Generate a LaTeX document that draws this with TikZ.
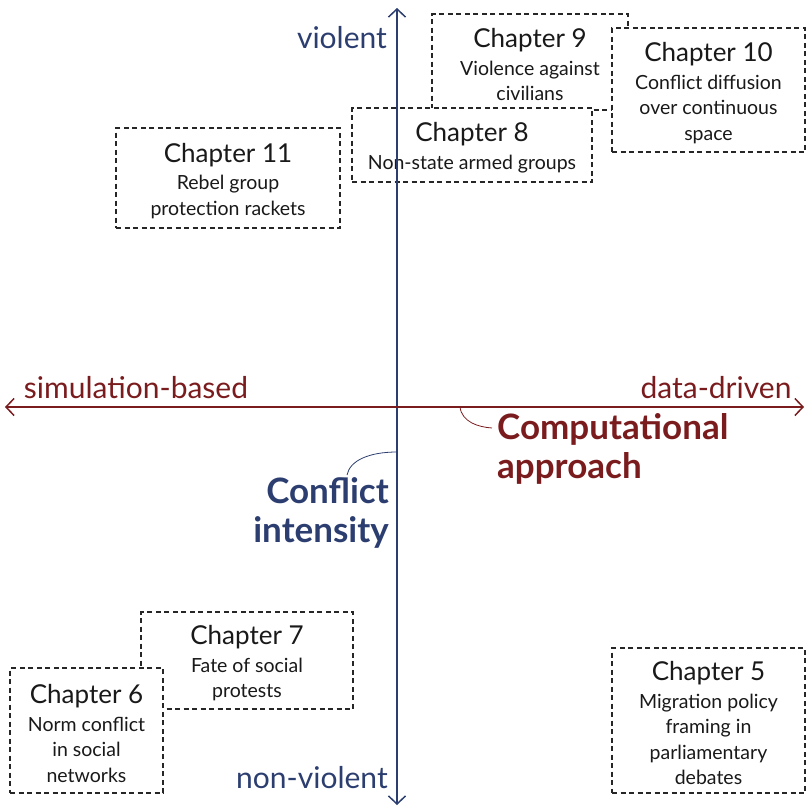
\documentclass[tikz,border=0pt]{standalone}
\usepackage{fontspec}
\setmainfont{Lato}
\usetikzlibrary{arrows.meta}
\definecolor{axblue}{RGB}{44,62,112}
\definecolor{axred}{RGB}{122,28,30}
\newcommand\chapline[1]{{\fontsize{26}{29}\selectfont\rule{0pt}{25pt}Chapter #1}}
\tikzset{
  chapbox/.style={draw=black!85, dash pattern=on 5pt off 3.5pt, line width=1.1pt,
    fill=white, align=center, inner sep=0pt, text=black!90,
    font=\fontsize{19.5}{25.5}\selectfont},
  axline/.style={line width=1.5pt, {Straight Barb[length=8pt,width=17pt]}-{Straight Barb[length=8pt,width=17pt]}},
  axlabel/.style={font=\fontsize{30}{34}\selectfont, inner sep=0pt},
  biglabel/.style={font=\bfseries\fontsize{35}{38.5}\selectfont, inner sep=0pt},
  leader/.style={line width=0.8pt}
}
\begin{document}
\begin{tikzpicture}[x=1pt,y=-1pt]
\useasboundingbox (0,0) rectangle (806,807);
% boxes (drawn in stacking order)
\node[chapbox, minimum width=196pt, minimum height=96pt] (c9) at (530,62)
  {\chapline{9}\\[2pt]Violence against\\civilians};
\node[chapbox, minimum width=240pt, minimum height=74pt] (c8) at (472,145)
  {\chapline{8}\\[2pt]Non-state armed groups};
\node[chapbox, minimum width=193pt, minimum height=124pt] (c10) at (708.5,90)
  {\chapline{10}\\[2pt]Conflict diffusion\\over continuous\\space};
\node[chapbox, minimum width=224pt, minimum height=100pt] (c11) at (228,178)
  {\chapline{11}\\[2pt]Rebel group\\protection rackets};
\node[chapbox, minimum width=212pt, minimum height=97pt] (c7) at (247,660.5)
  {\chapline{7}\\[2pt]Fate of social\\protests};
\node[chapbox, minimum width=153pt, minimum height=125pt] (c6) at (86.5,730.5)
  {\chapline{6}\\[2pt]Norm conflict\\in social\\networks};
\node[chapbox, minimum width=193pt, minimum height=145pt] (c5) at (708.5,720.5)
  {\chapline{5}\\[2pt]Migration policy\\framing in\\parliamentary\\debates};
% axes
\coordinate (vt) at (397,8);
\coordinate (vb) at (397,805);
\coordinate (hl) at (5,407);
\coordinate (hr) at (804,407);
\draw[axline, axblue] (vb) -- (vt);
\draw[axline, axred] (hl) -- (hr);
% axis labels
\node[axlabel, text=axblue] (viol) at (342,38) {violent};
\node[axlabel, text=axblue] (nviol) at (312,778) {non-violent};
\node[axlabel, text=axred] (sim) at (136,388) {simulation-based};
\node[axlabel, text=axred] (data) at (716,388) {data-driven};
% titles
\node[biglabel, text=axred, align=left, anchor=west] (comp) at (497,449) {Computational\\approach};
\node[biglabel, text=axblue, align=right, anchor=east] (conf) at (389,513) {Conflict\\intensity};
% leaders
\coordinate (lc1) at (460,407);
\coordinate (lc2) at (492,428);
\draw[leader, axred] (lc1) .. controls (462,422) and (478,427) .. (lc2);
\coordinate (lb1) at (397,452);
\coordinate (lb2) at (347,475);
\draw[leader, axblue] (lb1) .. controls (370,452) and (350,460) .. (lb2);
\end{tikzpicture}
\end{document}
